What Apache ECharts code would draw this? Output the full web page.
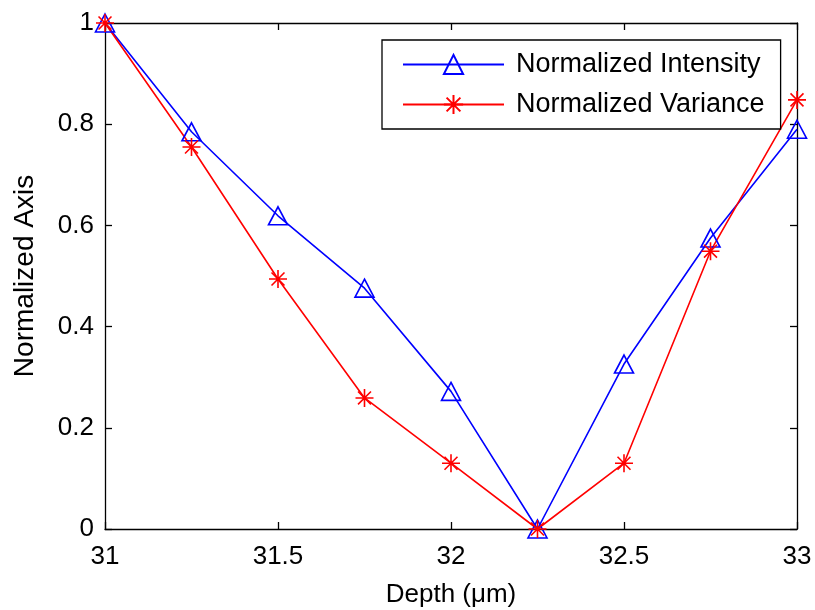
<!DOCTYPE html>
<html>
<head>
<meta charset="utf-8">
<script src="https://cdn.jsdelivr.net/npm/echarts@6/dist/echarts.min.js"></script>
<style>
html,body{margin:0;padding:0;background:#fff;}
#chart{width:815px;height:610px;}
</style>
</head>
<body>
<div id="chart"></div>
<script>
const depth = [31, 31.25, 31.5, 31.75, 32, 32.25, 32.5, 32.75, 33];
const intensity = [1, 0.785, 0.619, 0.476, 0.272, 0, 0.326, 0.575, 0.79];
const variance = [1, 0.755, 0.494, 0.259, 0.130, 0, 0.130, 0.549, 0.848];
const seriesNames = ['Normalized Intensity', 'Normalized Variance'];
const xTitle = 'Depth (\u03bcm)';
const yTitle = 'Normalized Axis';

const font = '"Liberation Sans", Arial, Helvetica, sans-serif';
const asterisk = 'path://M0,-1L0,1M-1,0L1,0M-0.72,-0.72L0.72,0.72M-0.72,0.72L0.72,-0.72';

function pairs(ys){ return depth.map((x,i)=>[x, ys[i]]); }

const chart = echarts.init(document.getElementById('chart'), null, {renderer:'canvas'});
const axisCommon = {
  axisLine:{show:true, onZero:false, lineStyle:{color:'#000', width:1.3}},
  axisTick:{show:true, inside:true, length:7, lineStyle:{color:'#000', width:1.3}},
  splitLine:{show:false}
};
chart.setOption({
  animation:false,
  backgroundColor:'#fff',
  textStyle:{fontFamily:font},
  grid:{left:105, right:18, top:23, bottom:81, containLabel:false, outerBoundsMode:'none'},
  legend:{
    orient:'vertical', left:382, top:40,
    padding:[11,16,11,20],
    itemWidth:101, itemHeight:24, itemGap:13,
    borderColor:'#000', borderWidth:1.3, backgroundColor:'#fff',
    textStyle:{fontFamily:font, fontSize:27, color:'#000', padding:[0,0,0,7]},
    data:seriesNames
  },
  xAxis:[
    Object.assign({type:'value', min:31, max:33, interval:0.5, position:'bottom',
      name:xTitle, nameLocation:'middle', nameGap:53,
      nameTextStyle:{fontFamily:font, fontSize:26, color:'#000'},
      axisLabel:{show:true, fontFamily:font, fontSize:26, color:'#000', margin:15}}, axisCommon),
    Object.assign({type:'value', min:31, max:33, interval:0.5, position:'top',
      axisLabel:{show:false}}, axisCommon)
  ],
  yAxis:[
    Object.assign({type:'value', min:0, max:1, interval:0.2, position:'left',
      name:yTitle, nameLocation:'middle', nameGap:66,
      nameTextStyle:{fontFamily:font, fontSize:28, color:'#000'},
      axisLabel:{show:true, fontFamily:font, fontSize:26, color:'#000', margin:11}}, axisCommon),
    Object.assign({type:'value', min:0, max:1, interval:0.2, position:'right',
      axisLabel:{show:false}}, axisCommon)
  ],
  series:[
    {
      name:seriesNames[0], type:'line', data:pairs(intensity), clip:false,
      symbol:'triangle', symbolSize:[19,18],
      itemStyle:{color:'rgba(255,255,255,0)', borderColor:'#0000ff', borderWidth:1.6},
      lineStyle:{color:'#0000ff', width:1.6},
      emphasis:{disabled:true}
    },
    {
      name:seriesNames[1], type:'line', data:pairs(variance), clip:false,
      symbol:asterisk, symbolSize:[18,18],
      itemStyle:{color:'rgba(255,255,255,0)', borderColor:'#ff0000', borderWidth:1.6},
      lineStyle:{color:'#ff0000', width:1.6},
      emphasis:{disabled:true}
    }
  ]
});
</script>
</body>
</html>
